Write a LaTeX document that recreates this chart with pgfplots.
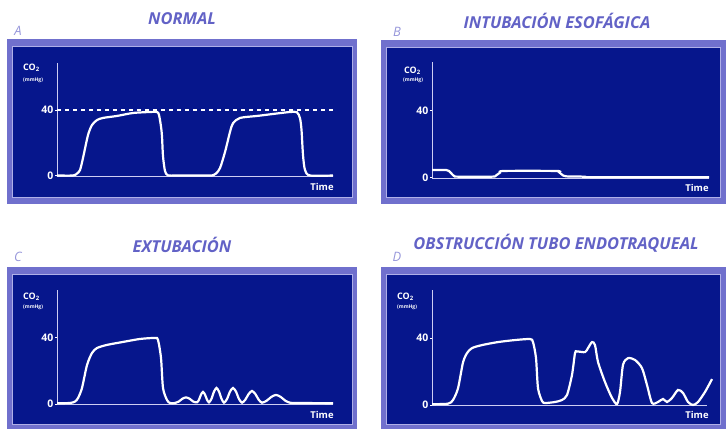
\documentclass[border=0pt]{standalone}
\usepackage{fontspec}
\setmainfont{Open Sans}
\usepackage{pgfplots}
\pgfplotsset{compat=1.18}

\definecolor{panelbg}{RGB}{6,22,140}
\definecolor{framec}{RGB}{112,112,205}
\definecolor{framel}{RGB}{175,175,232}
\definecolor{titlec}{RGB}{98,98,198}
\definecolor{letterc}{RGB}{150,150,218}
\definecolor{axisc}{RGB}{205,205,242}

\pgfplotsset{
  capno/.style={
    scale only axis, clip=false, anchor=south west,
    axis lines=left, axis line style={-, draw=axisc, line width=0.8bp},
    xmin=0, ymin=0, xtick=\empty, ytick={0,40},
    tick style={draw=white, line width=1bp}, tick align=outside, major tick length=2bp,
    yticklabel style={text=white, font=\bfseries\fontsize{10.5}{10.5}\selectfont, inner sep=1.5bp},
    /pgf/number format/assume math mode=true,
  },
  trace/.style={white, line width=2.2bp, smooth, tension=0.45, no marks},
}

\begin{document}
\begin{tikzpicture}[x=1bp,y=1bp]
\path[use as bounding box] (0,0) rectangle (728,429);

% panel frames
\fill[framec] (7,225) rectangle (357,390);
\filldraw[fill=panelbg, draw=framel, line width=0.8bp] (12.5,231.5) rectangle (352.5,383);
\fill[framec] (381,225) rectangle (726,389);
\filldraw[fill=panelbg, draw=framel, line width=0.8bp] (386.5,231.5) rectangle (720.5,382);
\fill[framec] (7,0) rectangle (357,162);
\filldraw[fill=panelbg, draw=framel, line width=0.8bp] (12.5,5) rectangle (352.5,155);
\fill[framec] (381,0) rectangle (726,162);
\filldraw[fill=panelbg, draw=framel, line width=0.8bp] (386.5,5) rectangle (720.5,155);

% titles and letters
\begin{scope}[font=\bfseries\itshape\fontsize{16.5}{16.5}\selectfont, text=titlec]
\node at (182,410) {NORMAL};
\node at (557,408) {INTUBACIÓN ESOFÁGICA};
\node at (182,184) {EXTUBACIÓN};
\node at (556,186) {OBSTRUCCIÓN TUBO ENDOTRAQUEAL};
\end{scope}
\begin{scope}[font=\itshape\fontsize{13}{13}\selectfont, text=letterc]
\node at (18,398) {A};
\node at (397,397) {B};
\node at (18,172) {C};
\node at (397,172) {D};
\end{scope}

% A: normal
\begin{axis}[capno, at={(57bp,253bp)}, width=276bp, height=113bp, xmax=276, ymax=68.5]
\addplot[white, line width=1.2bp, dash pattern=on 4bp off 4bp] coordinates {(0,40) (276,40)};
\addplot[trace] coordinates {
 (0,0.3) (16,0.3) (20,1.5) (23,3.6) (26,10.9) (31,24.8) (35,30.9) (40,33.9)
 (46,35.2) (60,36.4) (76,38.2) (93,38.8) (100,38.8) (102,37.0) (104,30)
 (105,24) (106,12) (108,3) (111,0.4) (120,0.3) (150,0.3)
 (155,0.3) (159,1.5) (163,4.8) (168,14.5) (173,26.7) (176,32) (183,35.2)
 (200,36.4) (216,37.6) (233,38.8) (240,38.6) (243,35) (244.5,28) (246,12.7)
 (248,3.6) (253,0.3) (276,0.3)};
\end{axis}

% B: esophageal intubation
\begin{axis}[capno, at={(432bp,251bp)}, width=277bp, height=115.6bp, xmax=277, ymax=69]
\addplot[trace] coordinates {
 (0,4.8) (14,4.8) (17,4.2) (19,3) (22,1.2) (26,0.8) (60,0.8) (64,1.5)
 (68,3.2) (72,4.2) (124,4.2) (127,3.5) (130,2) (134,1.0) (153,0.8)
 (160,0.5) (277,0.5)};
\end{axis}

% C: extubation
\begin{axis}[capno, at={(57bp,25bp)}, width=276bp, height=113.9bp, xmax=276, ymax=69]
\addplot[trace] coordinates {
 (0,0.5) (13,0.6) (18,1.5) (21,3.6) (25,9.7) (30,23.6) (35,30.9) (40,33.9)
 (50,35.8) (66,37.6) (83,39.4) (98,40) (101,38.8) (104,27.9) (106,9.7)
 (110,2.4) (113,0.6) (118,0.6) (121.7,1.45) (125.3,3.15) (129,4.0)
 (132.7,3.15) (136.3,1.45) (140,1.0) (142,2.6) (144,5.7) (146,7.3)
 (148,5.7) (150,2.6) (152,1.0) (154.5,3.2) (157,7.5) (159.5,9.7)
 (162,7.5) (164.5,3.2) (167,0.8) (170,3.0) (173,7.5) (176,9.7) (179,7.5)
 (182,3.0) (185,0.8) (188.3,2.6) (191.7,6.1) (195,7.9) (198.3,6.1)
 (201.7,2.6) (205,0.8) (209.7,2.0) (214.3,4.3) (219,5.5) (223.7,4.3)
 (228.3,2.0) (233,0.8) (240,0.6) (276,0.5)};
\end{axis}

% D: endotracheal tube obstruction
\begin{axis}[capno, at={(432bp,24bp)}, width=275bp, height=115bp, xmax=275, ymax=68.7]
\addplot[trace] coordinates {
 (0,0.5) (16,0.8) (21,3) (26,10) (31,25.4) (35,31) (40,34) (50,35.8)
 (66,37.6) (83,38.8) (98,39.4) (101,37.6) (104,28) (106,10) (110,2.4)
 (113,1.2) (123,1.8) (130,3) (135,6) (140,18) (143,31) (145,32) (153,31.6)
 (156,34) (160,37.6) (163,35.8) (166,25.7) (173,13.7) (180,4.2) (185,0.6)
 (188,7.8) (191,24) (196,28) (203,26.9) (210,22) (215,11.9) (220,1.2)
 (226,1.8) (231,3.6) (235,1.8) (240,4.2) (246,9) (251,7.2) (256,1.8)
 (261,0) (266,1.8) (273,7.8) (280,15.5)};
\end{axis}

% axis captions
\begin{scope}[text=white, inner sep=0pt]
\node[font=\bfseries\fontsize{9}{9}\selectfont, anchor=west] at (23,361) {CO\textsubscript{2}};
\node[font=\bfseries\fontsize{5}{5}\selectfont, anchor=west] at (23,349) {(mmHg)};
\node[font=\bfseries\fontsize{9}{9}\selectfont, anchor=west] at (404,358) {CO\textsubscript{2}};
\node[font=\bfseries\fontsize{5}{5}\selectfont, anchor=west] at (403,349) {(mmHg)};
\node[font=\bfseries\fontsize{9}{9}\selectfont, anchor=west] at (23,132) {CO\textsubscript{2}};
\node[font=\bfseries\fontsize{5}{5}\selectfont, anchor=west] at (23,122) {(mmHg)};
\node[font=\bfseries\fontsize{9}{9}\selectfont, anchor=west] at (397,132) {CO\textsubscript{2}};
\node[font=\bfseries\fontsize{5}{5}\selectfont, anchor=west] at (397,122) {(mmHg)};
\end{scope}
\begin{scope}[text=white, font=\bfseries\fontsize{9.5}{9.5}\selectfont]
\node at (322,242) {Time};
\node at (697,241) {Time};
\node at (322,14) {Time};
\node at (697,14) {Time};
\end{scope}
\end{tikzpicture}
\end{document}
